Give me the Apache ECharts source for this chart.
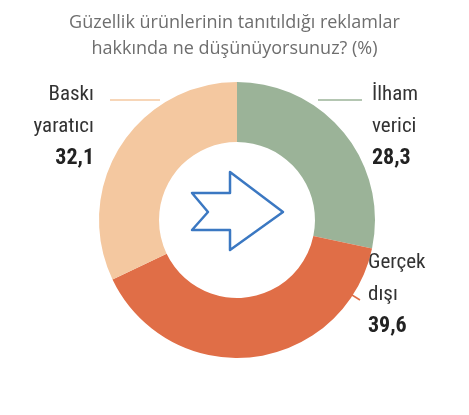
<!DOCTYPE html>
<html><head><meta charset="utf-8">
<script src="https://cdn.jsdelivr.net/npm/echarts@6/dist/echarts.min.js"></script>
<style>html,body{margin:0;background:#fff}#c{width:469px;height:415px}</style>
</head><body><div id="c"></div>
<script>
var names = ['İlham\nverici', 'Gerçek\ndışı', 'Baskı\nyaratıcı'];
var values = [28.3, 39.6, 32.1];
var colors = ['#9bb398', '#e06e47', '#f4c8a0'];

var font = "'Liberation Sans Narrow','Roboto Condensed','Roboto',sans-serif";
function fmt(v) { return String(v).replace('.', ','); }

function label(i, x, y, align) {
    return {
        type: 'text', left: align === 'right' ? null : x, right: align === 'right' ? 469 - x : null, top: y,
        style: {
            text: '{n|' + names[i] + '}\n{v|' + fmt(values[i]) + '}',
            align: align,
            rich: {
                n: {fontFamily: font, fontSize: 21, lineHeight: 32, fill: '#333', align: align},
                v: {fontFamily: font, fontSize: 22, fontWeight: 'bold', lineHeight: 32, fill: '#222', align: align}
            }
        }
    };
}

var myChart = echarts.init(document.getElementById('c'));
myChart.setOption({
    title: {
        text: 'Güzellik ürünlerinin tanıtıldığı reklamlar\nhakkında ne düşünüyorsunuz? (%)',
        left: 'center', top: 5,
        textStyle: {fontFamily: 'Open Sans', fontSize: 18, fontWeight: 'normal', color: '#6e6e6e', lineHeight: 26}
    },
    series: [{
        type: 'pie',
        center: [237, 220],
        radius: [78, 138],
        startAngle: 90,
        clockwise: true,
        silent: true,
        label: {show: false},
        itemStyle: {borderWidth: 0},
        data: values.map(function (v, i) {
            return {name: names[i], value: v, itemStyle: {color: colors[i]}};
        })
    }],
    graphic: [
        label(0, 372, 84, 'left'),
        label(1, 368, 252, 'left'),
        label(2, 94, 84, 'right'),
        {type: 'line', shape: {x1: 318, y1: 100, x2: 362, y2: 100}, style: {stroke: '#9bb398', lineWidth: 1.5}},
        {type: 'line', shape: {x1: 110, y1: 100, x2: 160, y2: 100}, style: {stroke: '#f4c8a0', lineWidth: 1.5}},
        {type: 'line', shape: {x1: 344, y1: 290, x2: 360, y2: 300}, style: {stroke: '#e06e47', lineWidth: 1.5}},
        {
            type: 'polygon',
            shape: {points: [[192, 193], [230, 193], [230, 172], [283, 212], [230, 250], [230, 230], [192, 230], [208, 212]]},
            style: {fill: '#fff', stroke: '#3b78c2', lineWidth: 2.5, lineJoin: 'round'}
        }
    ]
});
</script></body></html>
